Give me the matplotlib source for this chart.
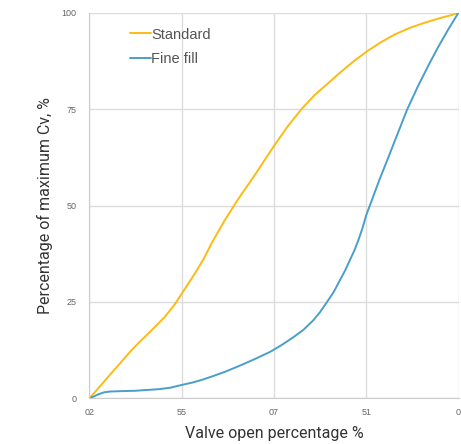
import matplotlib
matplotlib.use("Agg")
import matplotlib.pyplot as plt

# Data
std_x = [0, 2.5, 5.2, 8.5, 11.5, 14.2, 16.9, 20.5, 23, 25, 28.6, 31, 33.1, 36.7, 40, 42.5, 44.9, 47.5, 50, 53.8,
         57.5, 61, 64.7, 68, 71.5, 75, 78.8, 82.7, 86.5, 90, 93, 95.5, 98, 100]
std_y = [0, 2.7, 5.7, 9.3, 12.6, 15.2, 17.7, 21.2, 24.2, 27.1, 32.4, 36.2, 40.2, 46.2, 51.2, 54.7, 58.0, 61.8, 65.4, 70.6,
         75.0, 78.6, 81.7, 84.5, 87.3, 89.8, 92.2, 94.3, 95.9, 97.1, 98.0, 98.7, 99.3, 100]

fine_x = [0, 1.2, 2.5, 4, 5.6, 8.5, 12.4, 15.5, 18.7, 22, 25, 27.8, 30.4, 33.5, 36.7, 39.5, 42.2, 45, 49, 52,
          55, 58, 60.7, 62.5, 64.3, 66.2, 67.9, 69.3, 70.6, 71.8, 72.9, 74, 75, 76.1, 78.5, 81, 83.5, 86, 89, 91.9,
          94.5, 97.2, 100]
fine_y = [0, 0.5, 1.1, 1.6, 1.8, 1.9, 2.0, 2.2, 2.4, 2.8, 3.5, 4.1, 4.8, 5.8, 6.9, 8.0, 9.1, 10.3, 12.1, 13.8,
          15.7, 17.8, 20.3, 22.4, 24.9, 27.6, 30.7, 33.2, 35.9, 38.4, 41.1, 44.2, 47.5, 50.3, 56.5, 62.5, 68.6, 74.7,
          80.9, 86.4, 91.1, 95.6, 100]

x_ticks = [0, 25, 50, 75, 100]
x_ticklabels = ["02", "55", "07", "51", "0"]
y_ticks = [0, 25, 50, 75, 100]
y_ticklabels = ["0", "25", "50", "75", "100"]

fig = plt.figure(figsize=(4.61, 4.44), dpi=100)
ax = fig.add_axes([0.1937, 0.1025, 0.801, 0.8693])

ax.plot(std_x, std_y, color="#FDBB12", lw=1.4, label="Standard",
        solid_capstyle="round", solid_joinstyle="round")
ax.plot(fine_x, fine_y, color="#4A9ECB", lw=1.4, label="Fine fill",
        solid_capstyle="round", solid_joinstyle="round")

ax.set_xlim(0, 100)
ax.set_ylim(0, 100)
ax.set_xticks(x_ticks)
ax.set_xticklabels(x_ticklabels)
ax.set_yticks(y_ticks)
ax.set_yticklabels(y_ticklabels)
ax.grid(True, color="#DCDCDC", lw=1)
ax.set_axisbelow(True)
for s in ["top", "right"]:
    ax.spines[s].set_visible(False)
for s in ["left", "bottom"]:
    ax.spines[s].set_color("#CCCCCC")
ax.tick_params(length=0, labelsize=6.5, labelcolor="#666666")
ax.tick_params(axis="x", pad=7)
ax.tick_params(axis="y", pad=9)
for lab in ax.get_xticklabels() + ax.get_yticklabels():
    lab.set_family("Liberation Sans")

xl = ax.set_xlabel("Valve open percentage %", fontsize=11.5, color="#333333", family="Roboto")
yl = ax.set_ylabel("Percentage of maximum Cv, %", fontsize=11.5, color="#333333", family="Roboto")
xl.set_va("center")
yl.set_va("center")
ax.xaxis.set_label_coords(0.5, -0.0895)
ax.yaxis.set_label_coords(-0.12, 0.5)

leg = ax.legend(loc="upper left", bbox_to_anchor=(0.075, 0.995), frameon=False,
                handlelength=1.4, handletextpad=0.05, labelspacing=0.7,
                prop={"family": "Liberation Sans", "size": 10.5})
for t in leg.get_texts():
    t.set_color("#555555")

fig.savefig("out.png", dpi=100)
